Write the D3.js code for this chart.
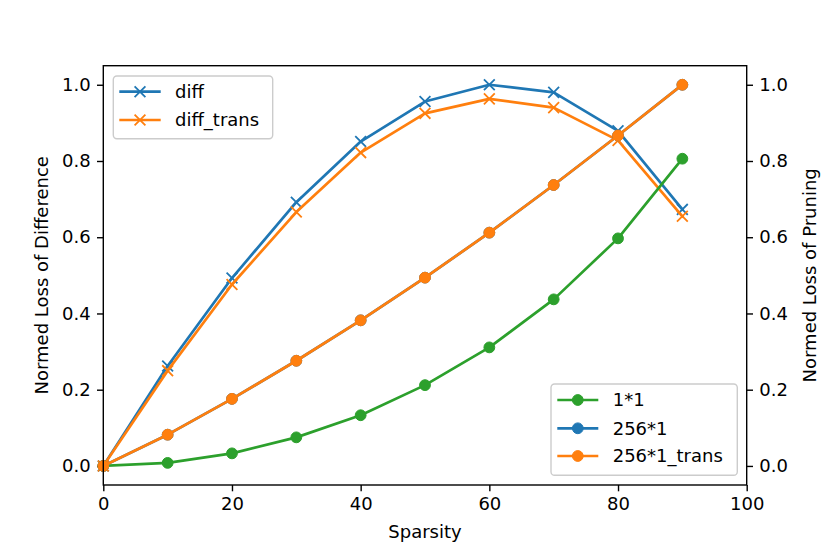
<!DOCTYPE html>
<html lang="en">
<head>
  <meta charset="UTF-8">
  <title>Normed loss vs sparsity</title>
  <style>
    body { margin: 0; background: #fff; }
    text { font-family: "DejaVu Sans", sans-serif; font-size: 18px; fill: #000; }
  </style>
</head>
<body>
  <script src="https://cdn.jsdelivr.net/npm/d3@7/dist/d3.min.js"></script>
  <script>
    // data
    var sparsity = [0, 10, 20, 30, 40, 50, 60, 70, 80, 90];
    var diff = [0, 0.262, 0.493, 0.692, 0.851, 0.956, 1.0, 0.98, 0.879, 0.673];
    var diffTrans = [0, 0.25, 0.476, 0.666, 0.822, 0.925, 0.963, 0.94, 0.854, 0.655];
    var loss1x1 = [0, 0.008, 0.033, 0.075, 0.133, 0.212, 0.311, 0.437, 0.597, 0.806];
    var loss256 = [0, 0.082, 0.176, 0.276, 0.382, 0.494, 0.612, 0.737, 0.867, 1.0];
    var loss256Trans = [0, 0.082, 0.176, 0.276, 0.382, 0.494, 0.612, 0.737, 0.867, 1.0];
    var xTicks = [0, 20, 40, 60, 80, 100];
    var yTicks = [0, 0.2, 0.4, 0.6, 0.8, 1.0];

    var width = 830, height = 554;
    // plot area (window.top is read-only, so no "top" here)
    var pLeft = 103.3, pRight = 746.7, pTop = 65.7, pBottom = 485;
    var blue = "#1f77b4", orange = "#ff7f0e", green = "#2ca02c";

    var svg = d3.select("body").append("svg")
      .attr("width", width)
      .attr("height", height);

    var x = d3.scaleLinear().domain([0, 100]).range([pLeft, pRight]);
    var yL = d3.scaleLinear().domain([-0.05, 1.05]).range([pBottom, pTop]);
    var yR = d3.scaleLinear().domain([-0.05, 1.05]).range([pBottom, pTop]);

    // axes
    var tickLen = 6.3, tickPad = 6.3;
    function styleAxis(g) {
      g.select(".domain").remove();
      g.selectAll(".tick line").attr("stroke", "#000").attr("stroke-width", 1.4);
      g.selectAll(".tick text").attr("font-family", "DejaVu Sans").attr("font-size", 18).attr("fill", "#000");
    }
    svg.append("g")
      .attr("transform", "translate(0," + pBottom + ")")
      .call(d3.axisBottom(x).tickValues(xTicks).tickSize(tickLen).tickPadding(tickPad).tickFormat(d3.format("d")))
      .call(styleAxis);
    svg.append("g")
      .attr("transform", "translate(" + pLeft + ",0)")
      .call(d3.axisLeft(yL).tickValues(yTicks).tickSize(tickLen).tickPadding(tickPad).tickFormat(d3.format(".1f")))
      .call(styleAxis);
    svg.append("g")
      .attr("transform", "translate(" + pRight + ",0)")
      .call(d3.axisRight(yR).tickValues(yTicks).tickSize(tickLen).tickPadding(tickPad).tickFormat(d3.format(".1f")))
      .call(styleAxis);

    // helpers for lines and markers
    function drawLine(vals, y, color) {
      var line = d3.line().x(function (d, i) { return x(sparsity[i]); }).y(function (d) { return y(d); });
      svg.append("path").datum(vals)
        .attr("fill", "none").attr("stroke", color).attr("stroke-width", 2.7)
        .attr("stroke-linejoin", "round").attr("stroke-linecap", "square")
        .attr("d", line);
    }
    function xMarks(g, pts, color) {
      var r = 5.4;
      g.selectAll(null).data(pts).enter().append("path")
        .attr("stroke", color).attr("stroke-width", 1.8).attr("fill", "none")
        .attr("d", function (p) {
          return "M" + (p[0] - r) + "," + (p[1] - r) + "L" + (p[0] + r) + "," + (p[1] + r) +
            "M" + (p[0] - r) + "," + (p[1] + r) + "L" + (p[0] + r) + "," + (p[1] - r);
        });
    }
    function dotMarks(g, pts, color) {
      g.selectAll(null).data(pts).enter().append("circle")
        .attr("cx", function (p) { return p[0]; }).attr("cy", function (p) { return p[1]; })
        .attr("r", 5.4).attr("fill", color).attr("stroke", color).attr("stroke-width", 1);
    }
    function pts(vals, y) {
      return vals.map(function (d, i) { return [x(sparsity[i]), y(d)]; });
    }

    // left axis series
    drawLine(diff, yL, blue);
    xMarks(svg.append("g"), pts(diff, yL), blue);
    drawLine(diffTrans, yL, orange);
    xMarks(svg.append("g"), pts(diffTrans, yL), orange);

    function legend(x0, y0, w, h, items, textX, lineX0, lineX1) {
      var g = svg.append("g");
      g.append("rect").attr("x", x0).attr("y", y0).attr("width", w).attr("height", h)
        .attr("rx", 3.6).attr("fill", "#fff").attr("fill-opacity", 0.8)
        .attr("stroke", "#cccccc").attr("stroke-width", 1.4);
      items.forEach(function (it) {
        g.append("line").attr("x1", lineX0).attr("x2", lineX1).attr("y1", it.y).attr("y2", it.y)
          .attr("stroke", it.color).attr("stroke-width", 2.7);
        var p = [[(lineX0 + lineX1) / 2, it.y]];
        if (it.marker === "x") xMarks(g, p, it.color); else dotMarks(g, p, it.color);
        g.append("text").attr("x", textX).attr("y", it.y).attr("dy", "0.35em").text(it.label);
      });
    }
    // legend for left axis
    legend(113.3, 76, 159.4, 62.7, [
      { label: "diff", color: blue, marker: "x", y: 91.7 },
      { label: "diff_trans", color: orange, marker: "x", y: 120 }
    ], 175, 119.3, 160.7);

    // right axis series
    drawLine(loss1x1, yR, green);
    dotMarks(svg.append("g"), pts(loss1x1, yR), green);
    drawLine(loss256, yR, blue);
    dotMarks(svg.append("g"), pts(loss256, yR), blue);
    drawLine(loss256Trans, yR, orange);
    dotMarks(svg.append("g"), pts(loss256Trans, yR), orange);

    legend(551, 384, 186.3, 91.3, [
      { label: "1*1", color: green, marker: "o", y: 400 },
      { label: "256*1", color: blue, marker: "o", y: 428.3 },
      { label: "256*1_trans", color: orange, marker: "o", y: 456 }
    ], 612.7, 557.3, 598.3);

    // frame
    svg.append("rect").attr("x", pLeft).attr("y", pTop)
      .attr("width", pRight - pLeft).attr("height", pBottom - pTop)
      .attr("fill", "none").attr("stroke", "#000").attr("stroke-width", 1.4);

    // axis labels
    svg.append("text").attr("x", (pLeft + pRight) / 2).attr("y", 538)
      .attr("text-anchor", "middle").text("Sparsity");
    svg.append("text").attr("transform", "translate(48," + (pTop + pBottom) / 2 + ") rotate(-90)")
      .attr("text-anchor", "middle").text("Normed Loss of Difference");
    svg.append("text").attr("transform", "translate(816," + (pTop + pBottom) / 2 + ") rotate(-90)")
      .attr("text-anchor", "middle").text("Normed Loss of Pruning");
  </script>
</body>
</html>
